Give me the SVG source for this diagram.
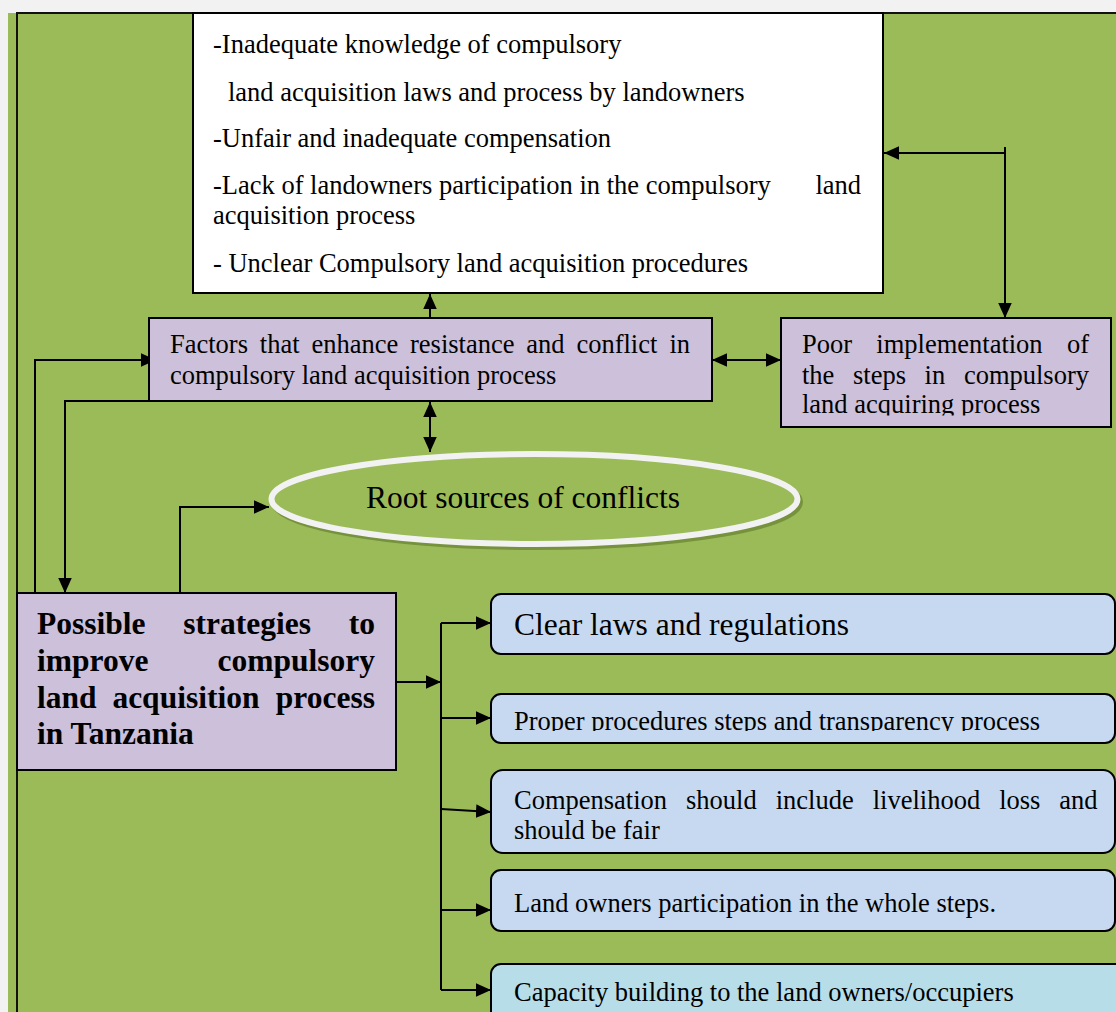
<svg xmlns="http://www.w3.org/2000/svg" width="1116" height="1012" viewBox="0 0 1116 1012">
  <style>
    .t { font-family: "Liberation Serif", "Times New Roman", serif; font-size: 26.5px; fill: #000; }
    .big { font-size: 31.5px; }
    .b { font-weight: bold; font-size: 31.5px; }
    .box { stroke: #000; stroke-width: 2; }
    .purple { fill: #ccc0da; }
    .blue { fill: #c6d9f1; }
    .cyan { fill: #b7dde8; }
    .wire { fill: none; stroke: #000; stroke-width: 2; }
  </style>
  <defs>
    <marker id="ah" viewBox="0 0 10 10" refX="10" refY="5" markerWidth="15" markerHeight="15" markerUnits="userSpaceOnUse" orient="auto-start-reverse">
      <path d="M0,0.5 L10,5 L0,9.5 z" fill="#000"/>
    </marker>
    <clipPath id="clipPoor"><rect x="781" y="318" width="330" height="97.5"/></clipPath>
    <clipPath id="clipProper"><rect x="491" y="694" width="624" height="37"/></clipPath>
  </defs>

  <!-- page and green panel -->
  <rect x="0" y="0" width="1116" height="1012" fill="#f2f2f2"/>
  <rect x="8" y="13" width="1108" height="999" fill="#9bbb59"/>
  <path d="M17,1012 V13 H1116" fill="none" stroke="#111" stroke-width="2"/>

  <!-- connectors -->
  <g id="connectors">
    <path class="wire" d="M430,318 V294" marker-end="url(#ah)"/>
    <path class="wire" d="M430,402 V452" marker-start="url(#ah)" marker-end="url(#ah)"/>
    <path class="wire" d="M712,360 H781" marker-start="url(#ah)" marker-end="url(#ah)"/>
    <path class="wire" d="M1005,147 V318" marker-end="url(#ah)"/>
    <path class="wire" d="M1005,153 H884" marker-end="url(#ah)"/>
    <path class="wire" d="M35,596 V360 H156" marker-end="url(#ah)"/>
    <path class="wire" d="M149,401 H65 V593" marker-end="url(#ah)"/>
    <path class="wire" d="M180,593 V507 H269" marker-end="url(#ah)"/>
    <path class="wire" d="M396,682 H441" marker-end="url(#ah)"/>
    <path class="wire" d="M441,623 V990"/>
    <path class="wire" d="M441,623 H491" marker-end="url(#ah)"/>
    <path class="wire" d="M441,718 H491" marker-end="url(#ah)"/>
    <path class="wire" d="M441,809 L491,812" marker-end="url(#ah)"/>
    <path class="wire" d="M441,910 H491" marker-end="url(#ah)"/>
    <path class="wire" d="M441,990 H491" marker-end="url(#ah)"/>
  </g>

  <!-- causes box -->
  <g id="causes">
    <rect class="box" x="193" y="13" width="690" height="280" fill="#fff"/>
    <text class="t" x="213" y="53">-Inadequate knowledge of compulsory</text>
    <text class="t" x="228" y="101">land acquisition laws and process by landowners</text>
    <text class="t" x="213" y="147">-Unfair and inadequate compensation</text>
    <text class="t" y="194"><tspan x="213">-Lack of landowners participation in the compulsory</tspan><tspan x="861" text-anchor="end">land</tspan></text>
    <text class="t" x="213" y="224">acquisition process</text>
    <text class="t" x="213" y="272">- Unclear Compulsory land acquisition procedures</text>
  </g>

  <!-- factors box -->
  <g id="factors">
    <rect class="box purple" x="149" y="318" width="563" height="83"/>
    <text class="t" y="352.5"><tspan x="170">Factors</tspan><tspan x="259.8">that</tspan><tspan x="311.4">enhance</tspan><tspan x="410">resistance</tspan><tspan x="526.3">and</tspan><tspan x="576.4">conflict</tspan><tspan x="690" text-anchor="end">in</tspan></text>
    <text class="t" x="170" y="383.5">compulsory land acquisition process</text>
  </g>

  <!-- poor implementation box -->
  <g id="poor">
    <rect class="box purple" x="781" y="318" width="330" height="109"/>
    <text class="t" y="353"><tspan x="802">Poor</tspan><tspan x="876.3">implementation</tspan><tspan x="1089" text-anchor="end">of</tspan></text>
    <text class="t" y="383.5"><tspan x="802">the</tspan><tspan x="853">steps</tspan><tspan x="924.6">in</tspan><tspan x="1089" text-anchor="end">compulsory</tspan></text>
    <text class="t" x="802" y="413" clip-path="url(#clipPoor)">land acquiring process</text>
  </g>

  <!-- root sources ellipse -->
  <g id="root">
    <ellipse cx="537" cy="502" rx="263" ry="45" fill="none" stroke="#76923c" stroke-width="6"/>
    <ellipse cx="534.5" cy="499" rx="263" ry="45" fill="#9bbb59" stroke="#f2f2f2" stroke-width="6"/>
    <text class="t big" x="366" y="508">Root sources of conflicts</text>
  </g>

  <!-- strategies box -->
  <g id="strategies">
    <rect class="box purple" x="17" y="593" width="379" height="177"/>
    <text class="t b" y="633.5"><tspan x="37">Possible</tspan><tspan x="183.3">strategies</tspan><tspan x="375" text-anchor="end">to</tspan></text>
    <text class="t b" y="670.5"><tspan x="37">improve</tspan><tspan x="375" text-anchor="end">compulsory</tspan></text>
    <text class="t b" y="707.5"><tspan x="37">land</tspan><tspan x="112.4">acquisition</tspan><tspan x="375" text-anchor="end">process</tspan></text>
    <text class="t b" x="37" y="743.5">in Tanzania</text>
  </g>

  <!-- strategy items -->
  <g id="item-laws">
    <rect class="box blue" x="491" y="594" width="624" height="60" rx="10"/>
    <text class="t big" x="514" y="635">Clear laws and regulations</text>
  </g>
  <g id="item-procedures">
    <rect class="box blue" x="491" y="694" width="624" height="49" rx="10"/>
    <text class="t" x="514" y="730" clip-path="url(#clipProper)">Proper procedures steps and transparency process</text>
  </g>
  <g id="item-compensation">
    <rect class="box blue" x="491" y="770" width="624" height="83" rx="12"/>
    <text class="t" y="808.5"><tspan x="514">Compensation</tspan><tspan x="686">should</tspan><tspan x="775.7">include</tspan><tspan x="872.7">livelihood</tspan><tspan x="999.2">loss</tspan><tspan x="1097.5" text-anchor="end">and</tspan></text>
    <text class="t" x="514" y="838.5">should be fair</text>
  </g>
  <g id="item-participation">
    <rect class="box blue" x="491" y="870" width="624" height="61" rx="10"/>
    <text class="t" x="514" y="912">Land owners participation in the whole steps.</text>
  </g>
  <g id="item-capacity">
    <rect class="box cyan" x="491" y="964" width="640" height="70" rx="10"/>
    <text class="t" x="514" y="1000.5">Capacity building to the land owners/occupiers</text>
  </g>
</svg>
